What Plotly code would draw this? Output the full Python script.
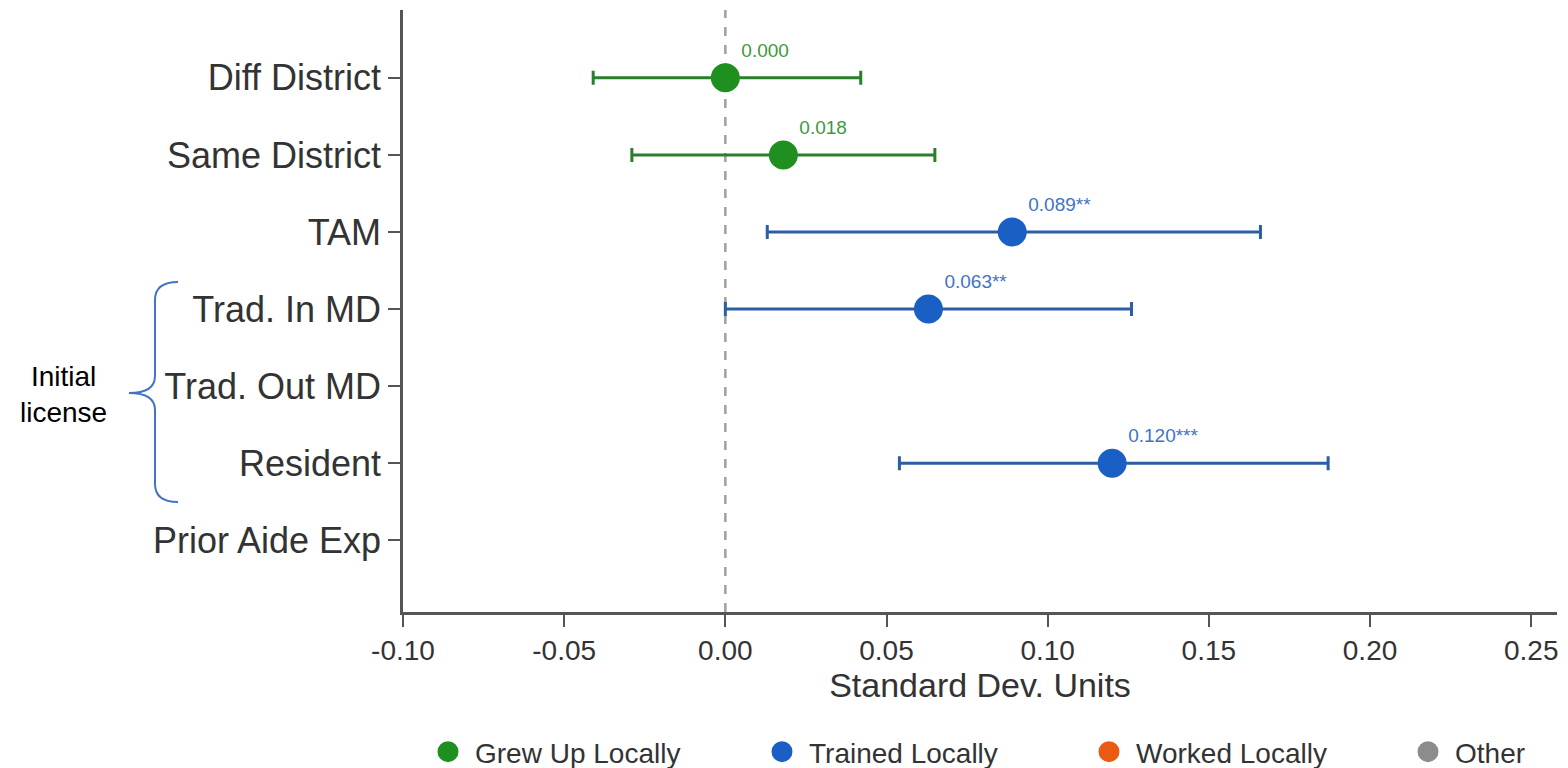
import plotly.graph_objects as go

# Coefficient estimates (standard-deviation units) with 95% CI bounds
categories = ["Diff District", "Same District", "TAM", "Trad. In MD",
              "Trad. Out MD", "Resident", "Prior Aide Exp"]
groups = ["Grew Up Locally", "Grew Up Locally", "Trained Locally", "Trained Locally",
          None, "Trained Locally", None]
estimates = [0.000, 0.018, 0.089, 0.063, None, 0.120, None]
ci_low = [-0.041, -0.029, 0.013, 0.000, None, 0.054, None]
ci_high = [0.042, 0.065, 0.166, 0.126, None, 0.187, None]
stars = ["", "", "**", "**", "", "***", ""]

legend_groups = ["Grew Up Locally", "Trained Locally", "Worked Locally", "Other"]
marker_colors = {"Grew Up Locally": "#1f8f1f", "Trained Locally": "#1a5fc4",
                 "Worked Locally": "#ea5a12", "Other": "#8c8c8c"}
bar_colors = {"Grew Up Locally": "#2a7f2a", "Trained Locally": "#2c5ea3",
              "Worked Locally": "#c04a10", "Other": "#777777"}
label_colors = {"Grew Up Locally": "#3c9a3c", "Trained Locally": "#3f73c6",
                "Worked Locally": "#ea5a12", "Other": "#8c8c8c"}

x_ticks = [-0.10, -0.05, 0.00, 0.05, 0.10, 0.15, 0.20, 0.25]
x_ticktext = ["-0.10", "-0.05", "0.00", "0.05", "0.10", "0.15", "0.20", "0.25"]

FONT = "Liberation Sans, Arial, sans-serif"
W, H = 1568, 768
ML, MR, MT, MB = 403, 11, 10, 156

# left edge (px) of each one-item legend along the bottom row
legend_left_px = [421, 755, 1082, 1401]
legend_ids = ["legend", "legend2", "legend3", "legend4"]

fig = go.Figure()

for k, g in enumerate(legend_groups):
    idx = [i for i, gg in enumerate(groups) if gg == g and estimates[i] is not None]
    xs = [estimates[i] for i in idx]
    ys = [i for i in idx]
    plus = [ci_high[i] - estimates[i] for i in idx]
    minus = [estimates[i] - ci_low[i] for i in idx]
    texts = [f"{estimates[i]:.3f}{stars[i]}" for i in idx]
    fig.add_trace(go.Scatter(
        x=xs if xs else [None], y=ys if ys else [None],
        mode="markers+text",
        name=g,
        legend=legend_ids[k],
        text=texts,
        textposition="top right",
        textfont=dict(family=FONT, size=19, color=label_colors[g]),
        marker=dict(size=24, color=marker_colors[g], symbol="circle",
                    line=dict(width=5, color=marker_colors[g])),
        error_x=dict(type="data", symmetric=False, array=plus, arrayminus=minus,
                     color=bar_colors[g], thickness=3, width=7),
        cliponaxis=False,
        showlegend=True,
    ))

# reference line at zero
fig.add_shape(type="line", xref="x", yref="paper", x0=0, x1=0, y0=0, y1=1,
              line=dict(color="#a0a0a0", width=2.5, dash="dash"), layer="below")


def px_x(p):
    return (p - ML) / (W - ML - MR)


def px_y(p):
    return (H - MB - p) / (H - MT - MB)


# curly brace grouping the licence categories
pts = [("M", 178, 282), ("Q", 155, 282, 155, 300), ("L", 155, 376),
       ("Q", 155, 393, 129, 393), ("Q", 155, 393, 155, 410), ("L", 155, 484),
       ("Q", 155, 502, 178, 502)]
path = ""
for p in pts:
    cmd, coords = p[0], p[1:]
    pairs = [f"{px_x(coords[j]):.5f},{px_y(coords[j + 1]):.5f}" for j in range(0, len(coords), 2)]
    path += cmd + " " + " ".join(pairs) + " "
fig.add_shape(type="path", xref="paper", yref="paper", path=path.strip(),
              line=dict(color="#4472c4", width=2))

fig.add_annotation(xref="paper", yref="paper", x=px_x(63), y=px_y(394),
                   xanchor="center", yanchor="middle",
                   text="Initial<br>license", showarrow=False, align="center",
                   font=dict(family=FONT, size=28, color="#000000"))

legend_style = dict(orientation="h", xref="container", yref="container",
                    xanchor="left", y=16 / H, yanchor="middle",
                    font=dict(family=FONT, size=28, color="#333333"),
                    itemsizing="trace", itemwidth=44, bgcolor="rgba(0,0,0,0)")

fig.update_layout(
    width=W, height=H,
    margin=dict(l=ML, r=MR, t=MT, b=MB, autoexpand=False),
    plot_bgcolor="white", paper_bgcolor="white",
    font=dict(family=FONT, color="#333333"),
    xaxis=dict(
        range=[-0.10, 0.258], tickvals=x_ticks, ticktext=x_ticktext,
        ticks="outside", ticklen=12, tickwidth=2, tickcolor="#555555",
        showline=True, linecolor="#555555", linewidth=2.5,
        showgrid=False, zeroline=False,
        tickfont=dict(family=FONT, size=28, color="#333333"),
        title=dict(text="Standard Dev. Units", standoff=6,
                   font=dict(family=FONT, size=34, color="#333333")),
    ),
    yaxis=dict(
        range=[6.93, -0.88], tickvals=list(range(len(categories))), ticktext=categories,
        ticks="outside", ticklen=12, tickwidth=2, tickcolor="#555555",
        showline=True, linecolor="#555555", linewidth=2.5,
        showgrid=False, zeroline=False,
        tickfont=dict(family=FONT, size=36, color="#333333"),
    ),
)
for lid, left in zip(legend_ids, legend_left_px):
    fig.update_layout({lid: dict(legend_style, x=left / W)})

fig.write_html("out.html")
